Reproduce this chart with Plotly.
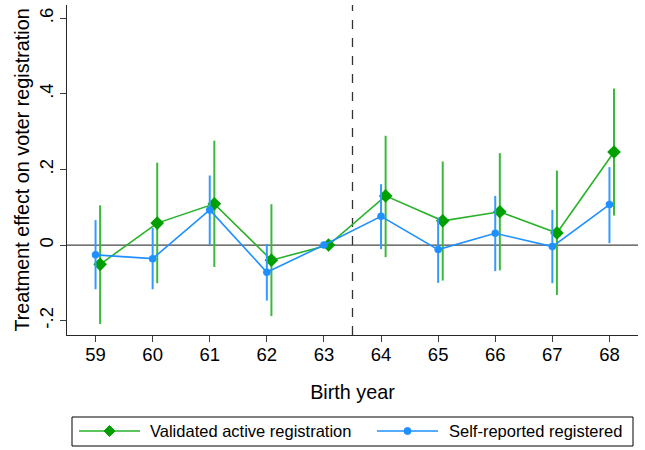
import plotly.graph_objects as go

# Birth-year cohorts (two-digit years)
years = [59, 60, 61, 62, 63, 64, 65, 66, 67, 68]
tick_text = ["-.2", "0", ".2", ".4", ".6"]
tick_vals = [-0.2, 0.0, 0.2, 0.4, 0.6]

# Validated active registration: point estimates and 95% CI bounds
val_est = [-0.051, 0.058, 0.109, -0.040, 0.0, 0.130, 0.064, 0.088, 0.032, 0.246]
val_hi = [0.105, 0.218, 0.276, 0.108, 0.0, 0.289, 0.221, 0.243, 0.197, 0.414]
val_lo = [-0.209, -0.101, -0.058, -0.188, 0.0, -0.032, -0.094, -0.067, -0.132, 0.078]

# Self-reported registered: point estimates and 95% CI bounds
sr_est = [-0.026, -0.036, 0.093, -0.072, 0.0, 0.076, -0.012, 0.031, -0.004, 0.107]
sr_hi = [0.066, 0.045, 0.184, 0.003, 0.0, 0.161, 0.073, 0.130, 0.093, 0.206]
sr_lo = [-0.117, -0.117, 0.0, -0.147, 0.0, -0.011, -0.100, -0.069, -0.101, 0.005]

series_names = ["Validated active registration", "Self-reported registered"]

cutoff = 63.5
val_shift = 0.08  # small horizontal dodge for the validated series

GREEN = "rgb(0,160,0)"
GREEN_LINE = "rgb(40,178,40)"
GREEN_BAR = "rgb(60,184,60)"
BLUE = "rgb(30,144,255)"
BLUE_BAR = "rgb(50,155,255)"

FONT = "Liberation Sans, Arial, sans-serif"

W, H = 645, 450
ML, MR, MT, MB = 67, 7, 5, 115
PW, PH = W - ML - MR, H - MT - MB


def px_x(px):
    """Pixel column -> paper x."""
    return (px - ML) / PW


def px_y(py):
    """Pixel row -> paper y."""
    return (H - MB - py) / PH


fig = go.Figure()

fig.add_trace(go.Scatter(
    x=[y + val_shift for y in years], y=val_est,
    mode="lines+markers",
    name=series_names[0],
    line=dict(color=GREEN_LINE, width=1.6),
    marker=dict(symbol="diamond", size=10.5, color=GREEN),
    error_y=dict(type="data", symmetric=False,
                 array=[h - e for h, e in zip(val_hi, val_est)],
                 arrayminus=[e - l for e, l in zip(val_est, val_lo)],
                 color=GREEN_BAR, thickness=2, width=0),
))

fig.add_trace(go.Scatter(
    x=years, y=sr_est,
    mode="lines+markers",
    name=series_names[1],
    line=dict(color=BLUE, width=1.6),
    marker=dict(symbol="circle", size=7.5, color=BLUE),
    error_y=dict(type="data", symmetric=False,
                 array=[h - e for h, e in zip(sr_hi, sr_est)],
                 arrayminus=[e - l for e, l in zip(sr_est, sr_lo)],
                 color=BLUE_BAR, thickness=2, width=0),
))

# Zero reference line and cohort cutoff
fig.add_shape(type="line", xref="paper", yref="y", x0=0, x1=1, y0=0, y1=0,
              line=dict(color="rgb(70,70,70)", width=1.3), layer="below")
fig.add_shape(type="line", xref="x", yref="paper", x0=cutoff, x1=cutoff, y0=0, y1=1,
              line=dict(color="rgb(50,50,50)", width=1.3, dash="dash"), layer="below")

# Boxed key below the axis title (Stata-style: long sample lines)
fig.add_shape(type="rect", xref="paper", yref="paper",
              x0=px_x(72), x1=px_x(633), y0=px_y(446), y1=px_y(417),
              line=dict(color="black", width=1), fillcolor="white")
key_y = px_y(431)
key_items = [
    (79, 140, GREEN_LINE, GREEN, "diamond", 148, series_names[0]),
    (377, 438, BLUE, BLUE, "circle", 447, series_names[1]),
]
for x0, x1, lcol, mcol, sym, tx, label in key_items:
    fig.add_shape(type="line", xref="paper", yref="paper",
                  x0=px_x(x0), x1=px_x(x1), y0=key_y, y1=key_y,
                  line=dict(color=lcol, width=1.6))
    cx = px_x((x0 + x1) / 2)
    if sym == "diamond":
        fig.add_shape(type="path", xref="paper", yref="paper",
                      xsizemode="pixel", ysizemode="pixel", xanchor=cx, yanchor=key_y,
                      path="M0,5.5 L5.5,0 L0,-5.5 L-5.5,0 Z",
                      line=dict(color=mcol, width=1), fillcolor=mcol)
    else:
        fig.add_shape(type="circle", xref="paper", yref="paper",
                      xsizemode="pixel", ysizemode="pixel", xanchor=cx, yanchor=key_y,
                      x0=-3.5, x1=3.5, y0=-3.5, y1=3.5,
                      line=dict(color=mcol, width=1), fillcolor=mcol)
    fig.add_annotation(xref="paper", yref="paper", x=px_x(tx), y=key_y,
                       xanchor="left", yanchor="middle", showarrow=False,
                       text=label, font=dict(size=16.5, family=FONT, color="black"))

fig.update_layout(
    width=W, height=H,
    margin=dict(l=ML, r=MR, t=MT, b=MB, autoexpand=False),
    paper_bgcolor="white", plot_bgcolor="white",
    font=dict(family=FONT, color="black"),
    showlegend=False,
    xaxis=dict(
        range=[58.5, 68.5], tickvals=years, ticktext=[str(y) for y in years],
        ticks="outside", ticklen=6, tickcolor="rgb(60,60,60)", tickwidth=1,
        ticklabelstandoff=-3,
        showline=True, linecolor="rgb(40,40,40)", linewidth=1,
        showgrid=False, zeroline=False, automargin=False,
        tickfont=dict(size=18.5),
        title=dict(text="Birth year", font=dict(size=19.8), standoff=20),
    ),
    yaxis=dict(
        range=[-0.238, 0.635], tickvals=tick_vals, ticktext=tick_text,
        tickangle=-90,
        ticks="outside", ticklen=6, tickcolor="rgb(60,60,60)", tickwidth=1,
        showline=True, linecolor="rgb(40,40,40)", linewidth=1,
        showgrid=False, zeroline=False, automargin=False,
        tickfont=dict(size=18.5),
        title=dict(text="Treatment effect on voter registration", font=dict(size=19.8), standoff=0),
    ),
)

fig.write_html("out.html")
